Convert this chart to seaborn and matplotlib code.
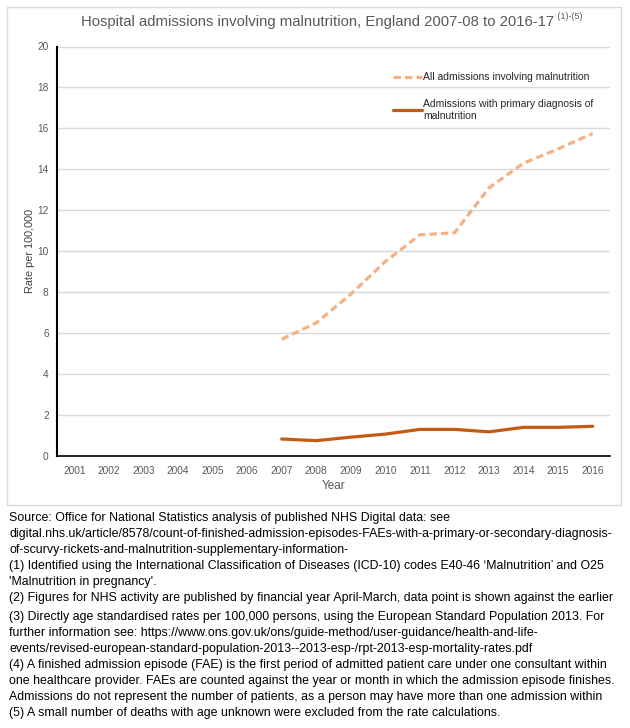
import numpy as np
import pandas as pd
import seaborn as sns
import matplotlib.pyplot as plt
from matplotlib.patches import Rectangle

sns.set_theme(style="white")
plt.rcParams['font.family'] = ['Liberation Sans', 'DejaVu Sans']

# data
years = list(range(2001, 2017))
data_years = list(range(2007, 2017))
all_admissions = [5.7, 6.5, 7.9, 9.5, 10.8, 10.9, 13.1, 14.3, 15.0, 15.75]
primary_admissions = [0.83, 0.75, 0.92, 1.07, 1.3, 1.3, 1.18, 1.4, 1.4, 1.45]
label_all = "All admissions involving malnutrition"
label_primary = "Admissions with primary diagnosis of\nmalnutrition"

footnotes = [
    "Source: Office for National Statistics analysis of published NHS Digital data: see",
    "digital.nhs.uk/article/8578/count-of-finished-admission-episodes-FAEs-with-a-primary-or-secondary-diagnosis-",
    "of-scurvy-rickets-and-malnutrition-supplementary-information-",
    "(1) Identified using the International Classification of Diseases (ICD-10) codes E40-46 \u2018Malnutrition\u2019 and O25",
    "'Malnutrition in pregnancy'.",
    "(2) Figures for NHS activity are published by financial year April-March, data point is shown against the earlier",
    "(3) Directly age standardised rates per 100,000 persons, using the European Standard Population 2013. For",
    "further information see: https://www.ons.gov.uk/ons/guide-method/user-guidance/health-and-life-",
    "events/revised-european-standard-population-2013--2013-esp-/rpt-2013-esp-mortality-rates.pdf",
    "(4) A finished admission episode (FAE) is the first period of admitted patient care under one consultant within",
    "one healthcare provider. FAEs are counted against the year or month in which the admission episode finishes.",
    "Admissions do not represent the number of patients, as a person may have more than one admission within",
    "(5) A small number of deaths with age unknown were excluded from the rate calculations.",
]

df = pd.DataFrame({
    "Year": data_years * 2,
    "Rate": all_admissions + primary_admissions,
    "Series": [label_all] * len(data_years) + [label_primary] * len(data_years),
})

W, H = 630, 728
fig = plt.figure(figsize=(W / 100, H / 100), dpi=100)

# chart box
fig.patches.append(Rectangle((7 / W, 1 - 505 / H), (621 - 7) / W, (505 - 7) / H,
                             transform=fig.transFigure, fill=False,
                             edgecolor="#D9D9D9", linewidth=1))

ax = fig.add_axes([57 / W, 1 - 456 / H, (610 - 57) / W, (456 - 46.5) / H])
sns.lineplot(data=df, x="Year", y="Rate", hue="Series", style="Series",
             palette={label_all: "#F4B183", label_primary: "#C55A11"},
             dashes={label_all: (2.3, 1.3), label_primary: ""},
             linewidth=2.3, ax=ax)

ax.set_xlim(2000.5, 2016.5)
ax.set_ylim(0, 20)
ax.set_xticks(years)
ax.set_xticklabels([str(y) for y in years])
ax.set_yticks(range(0, 21, 2))
ax.yaxis.grid(True, color="#D9D9D9", linewidth=1)
ax.tick_params(axis="both", length=0, labelsize=7.3, colors="#595959")
ax.tick_params(axis="x", pad=7)
ax.tick_params(axis="y", pad=6)
for side in ["top", "right"]:
    ax.spines[side].set_visible(False)
ax.spines["left"].set_color("black")
ax.spines["left"].set_linewidth(1.5)
ax.spines["bottom"].set_color("black")
ax.spines["bottom"].set_linewidth(1.2)
ax.set_xlabel("Year", fontsize=8.5, color="#595959", labelpad=3)
ax.set_ylabel("Rate per 100,000", fontsize=7.8, color="#404040", labelpad=2)

leg = ax.legend(loc="upper left", bbox_to_anchor=(0.59, 0.96), frameon=False,
                fontsize=7.5, handlelength=2.8, handletextpad=0.1, labelspacing=1.6)
for t in leg.get_texts():
    t.set_color("#262626")

title = fig.text(318 / W, 1 - 22 / H,
                 "Hospital admissions involving malnutrition, England 2007-08 to 2016-17",
                 ha="center", va="center", fontsize=10.7, color="#595959")
ax.annotate(" (1)-(5)", xy=(1, 0.55), xycoords=title, ha="left", va="bottom",
            fontsize=6.5, color="#595959")

y0 = 518
for i, line in enumerate(footnotes):
    y = y0 + i * 16 + (3 if i >= 6 else 0)
    fig.text(9 / W, 1 - y / H, line, ha="left", va="center", fontsize=8.9, color="black")

fig.savefig("out.png", dpi=100)
